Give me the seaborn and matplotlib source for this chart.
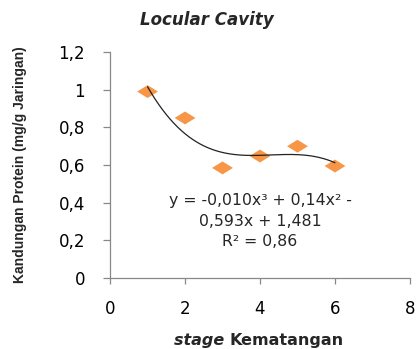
import numpy as np
import pandas as pd
import matplotlib
matplotlib.use("Agg")
import matplotlib.pyplot as plt
import seaborn as sns

stage = [1, 2, 3, 4, 5, 6]
protein = [0.99, 0.85, 0.585, 0.648, 0.70, 0.595]
yticks = [0, 0.2, 0.4, 0.6, 0.8, 1.0, 1.2]
ytick_labels = ["0", "0,2", "0,4", "0,6", "0,8", "1", "1,2"]
xticks = [0, 2, 4, 6, 8]
xtick_labels = ["0", "2", "4", "6", "8"]
equation = "y = -0,010x³ + 0,14x² -\n0,593x + 1,481\nR² = 0,86"

sns.set_style("white")
plt.rcParams["font.family"] = ["DejaVu Sans"]

fig = plt.figure(figsize=(4.17, 3.49), dpi=100)
ax = fig.add_axes([0.264, 0.203, 0.719, 0.648])

df = pd.DataFrame({"stage": stage, "protein": protein})
coef = np.polyfit(stage, protein, 3)
xs = np.linspace(min(stage), max(stage), 200)
fit = pd.DataFrame({"x": xs, "y": np.polyval(coef, xs)})

diamond = [(-1, 0), (0, 0.62), (1, 0), (0, -0.62), (-1, 0)]
sns.scatterplot(data=df, x="stage", y="protein", marker=diamond, s=225,
                color="#F79646", edgecolor="none", ax=ax, zorder=2)
sns.lineplot(data=fit, x="x", y="y", color="#222222", lw=0.9, ax=ax, zorder=3)

ax.set_xlim(0, 8)
ax.set_ylim(0, 1.2)
ax.set_xticks(xticks)
ax.set_xticklabels(xtick_labels)
ax.set_yticks(yticks)
ax.set_yticklabels(ytick_labels)
sns.despine(ax=ax)
for sp in ["left", "bottom"]:
    ax.spines[sp].set_color("#888888")
    ax.spines[sp].set_linewidth(0.9)
ax.tick_params(axis="both", width=0.9, color="#888888",
               labelsize=12, direction="out", labelcolor="black",
               left=True, bottom=True)
ax.tick_params(axis="x", length=4.5, pad=11)
ax.tick_params(axis="y", length=5, pad=13)
ax.set_xlabel("")
ax.set_ylabel("")

ax.text(4.0, 0.302, equation, ha="center", va="center", fontsize=11.3,
        linespacing=1.45)

fig.text(0.497, 0.942, "Locular Cavity", ha="center", va="center",
         fontsize=12, fontweight="bold", fontstyle="italic")

fig.text(0.048, 0.527, "Kandungan Protein (mg/g Jaringan)", rotation=90,
         ha="center", va="center", fontsize=10, fontweight="bold",
         family=["Liberation Sans", "DejaVu Sans"])

# x label: italic "stage" followed by "Kematangan"
t1 = fig.text(0.0, 0.0115, "stage ", ha="left", va="baseline", fontsize=11.5,
              fontweight="bold", fontstyle="italic")
t2 = fig.text(0.0, 0.0115, "Kematangan", ha="left", va="baseline", fontsize=11.5,
              fontweight="bold")
fig.canvas.draw()
r = fig.canvas.get_renderer()
w1 = t1.get_window_extent(r).width
w2 = t2.get_window_extent(r).width
W = fig.bbox.width
cx = 259.0
start = cx - (w1 + w2) / 2
t1.set_x(start / W)
t2.set_x((start + w1) / W)

fig.savefig("out.png", dpi=100)
